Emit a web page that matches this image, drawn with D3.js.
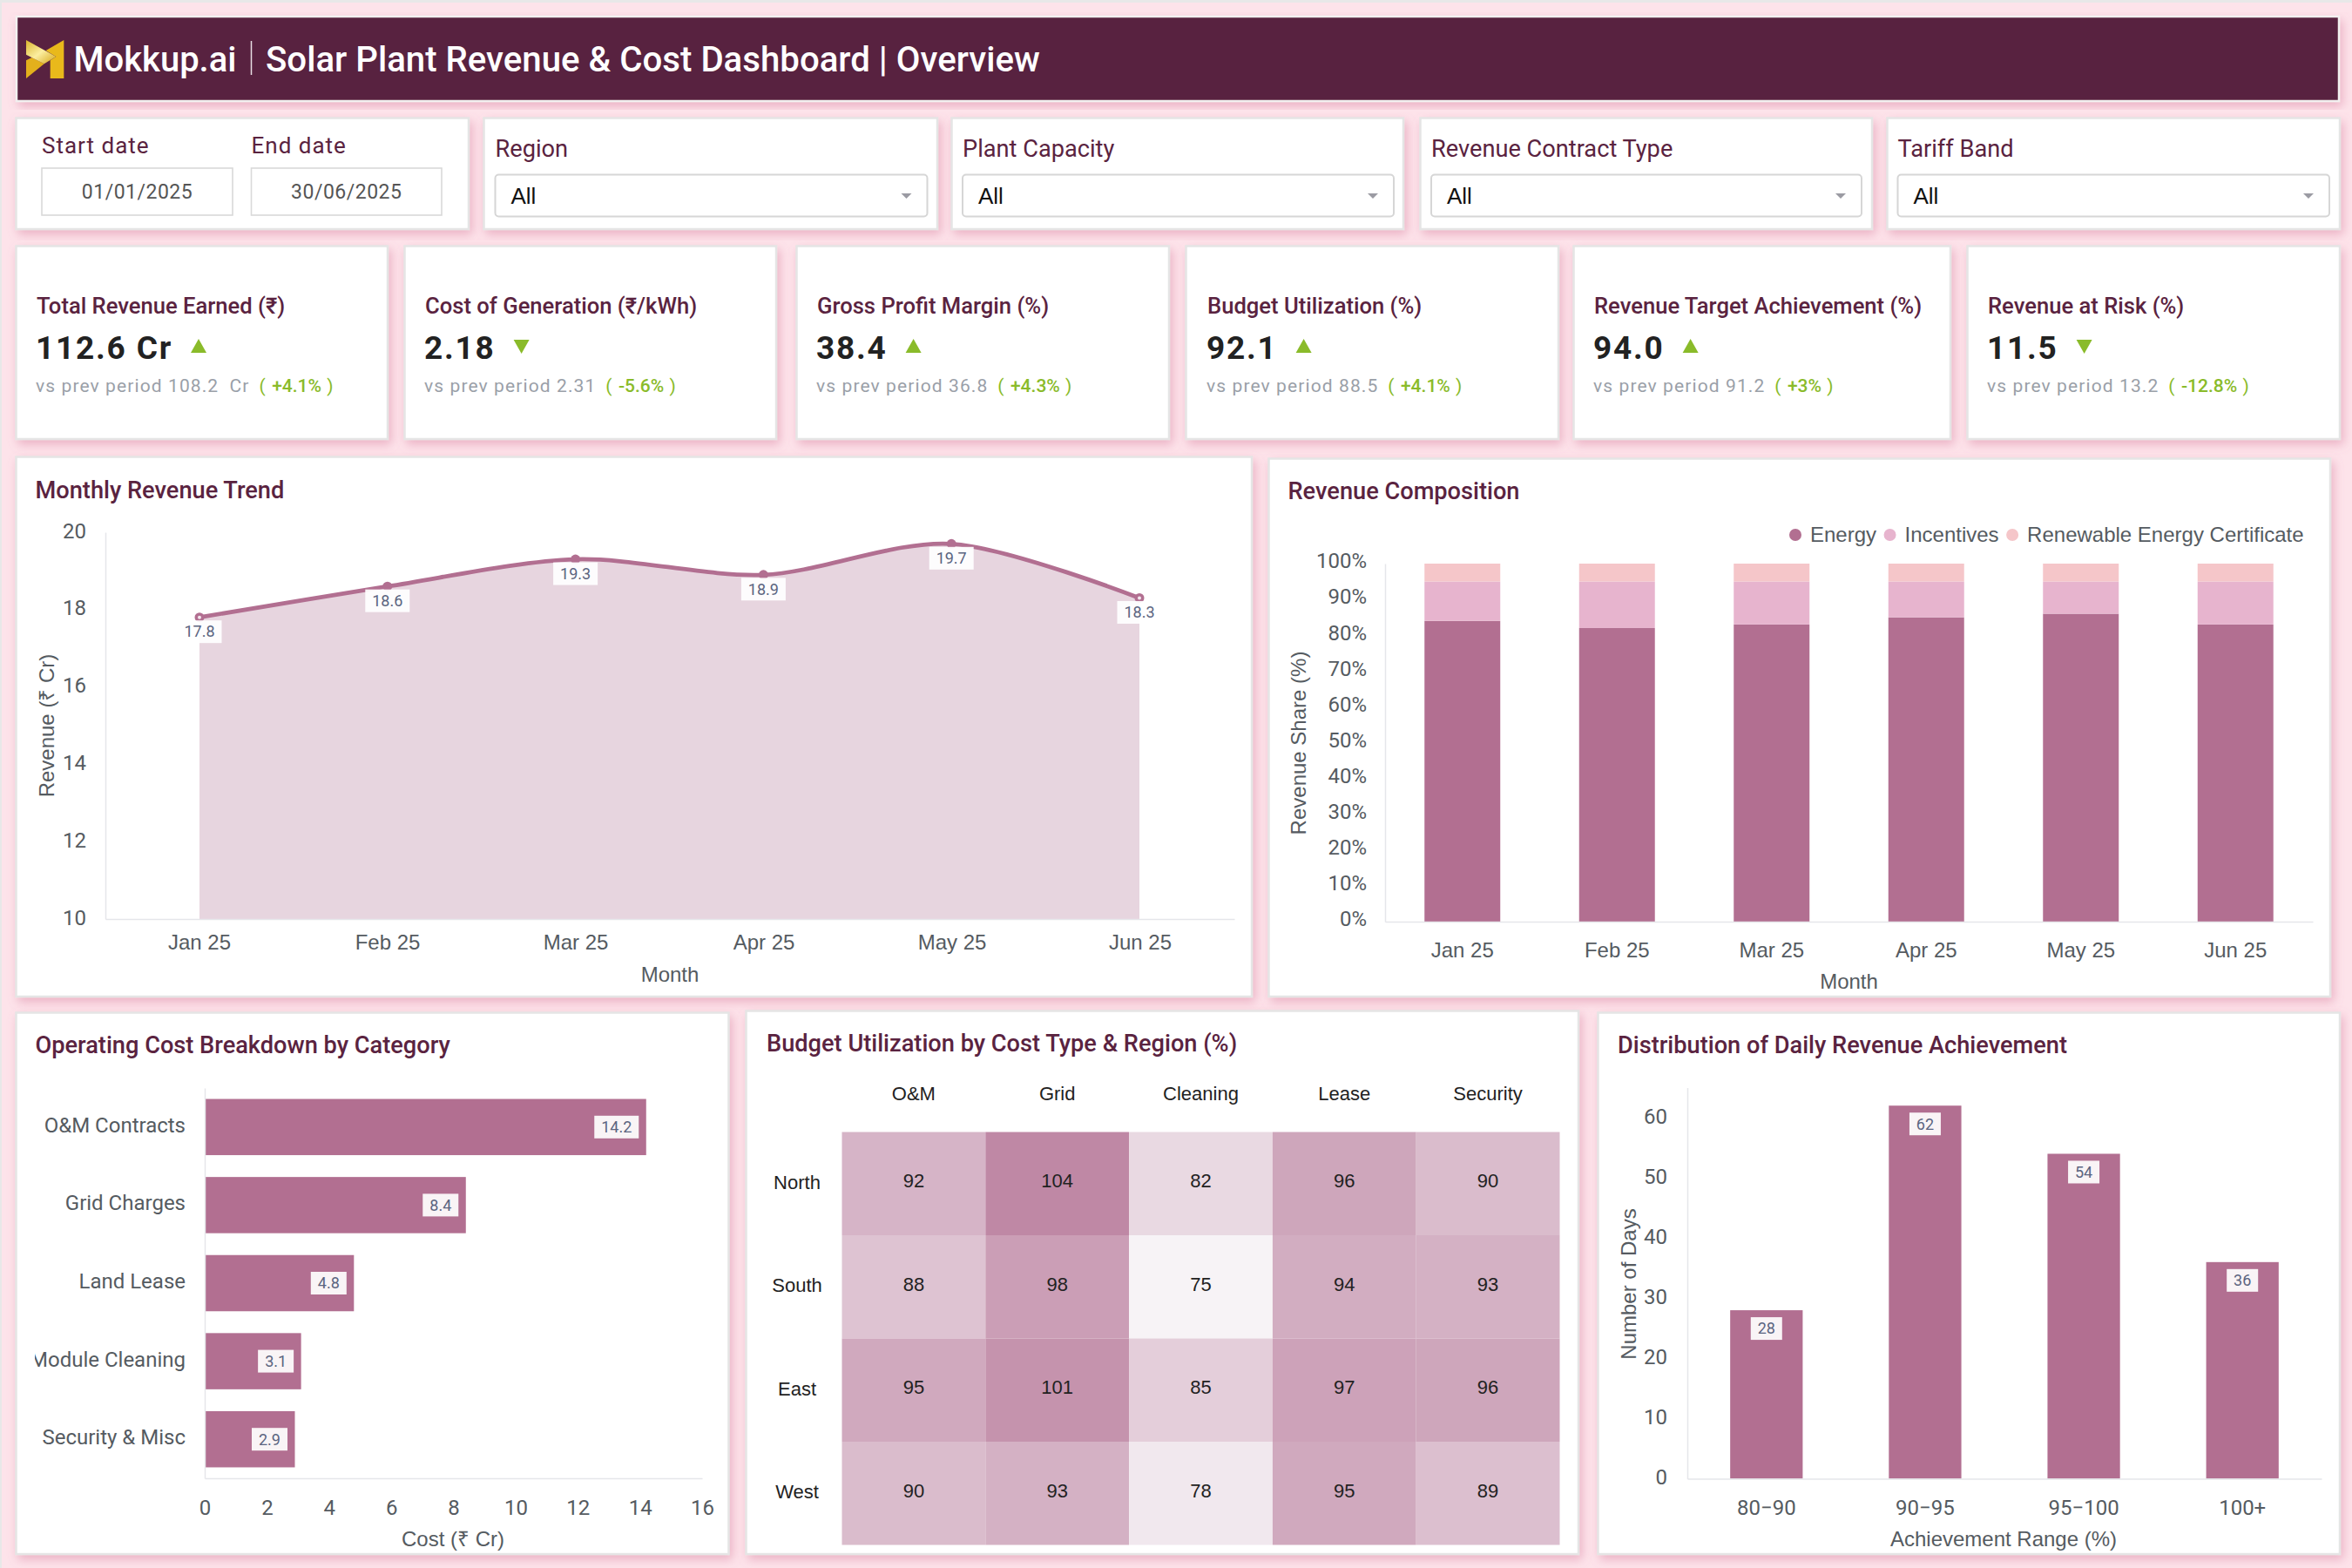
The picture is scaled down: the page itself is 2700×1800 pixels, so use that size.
<!DOCTYPE html>
<html><head><meta charset="utf-8">
<script src="https://cdn.jsdelivr.net/npm/d3@7"></script>
<style>
html,body{margin:0;padding:0;background:#fde3ea;}
svg{display:block;}
text{font-family:Roboto,sans-serif;}
</style></head><body><svg id="c" width="2700" height="1800"></svg>
<script>
// ---------- data ----------
const months=["Jan 25","Feb 25","Mar 25","Apr 25","May 25","Jun 25"];
const revenue=[17.8,18.6,19.3,18.9,19.7,18.3];
const energyShare=[84,82,83,85,86,83];
const incentiveShare=[11,13,12,10,9,12];
const recShare=[5,5,5,5,5,5];
const compositionSeries=["Energy","Incentives","Renewable Energy Certificate"];
const costCategories=["O&M Contracts","Grid Charges","Land Lease","Module Cleaning","Security & Misc"];
const costValues=[14.2,8.4,4.8,3.1,2.9];
const heatRegions=["North","South","East","West"];
const heatTypes=["O&M","Grid","Cleaning","Lease","Security"];
const heatNorth=[92,104,82,96,90];
const heatSouth=[88,98,75,94,93];
const heatEast=[95,101,85,97,96];
const heatWest=[90,93,78,95,89];
const achievementRanges=["80−90","90−95","95−100","100+"];
const achievementDays=[28,62,54,36];
const kpiTitles=["Total Revenue Earned (₹)","Cost of Generation (₹/kWh)","Gross Profit Margin (%)","Budget Utilization (%)","Revenue Target Achievement (%)","Revenue at Risk (%)"];
const kpiValues=["112.6 Cr","2.18","38.4","92.1","94.0","11.5"];
const kpiPrev=["108.2","2.31","36.8","88.5","91.2","13.2"];
const kpiPrevUnit=[" Cr","","","","",""];
const kpiDelta=["+4.1%","-5.6%","+4.3%","+4.1%","+3%","-12.8%"];
const kpiUp=[true,false,true,true,true,false];
const filterLabels=["Region","Plant Capacity","Revenue Contract Type","Tariff Band"];
const filterValue="All";
const dateLabels=["Start date","End date"];
const dateValues=["01/01/2025","30/06/2025"];

// ---------- style ----------
const PLUM="#b26f91",TITLE="#5a2340",AXIS="#555b61",GREEN="#8abb2a",LBL="#5b6480";
const TS=27.2;
const svg=d3.select("#c");
const defs=svg.append("defs");
const f=defs.append("filter").attr("id","sh").attr("x","-5%").attr("y","-5%").attr("width","112%").attr("height","115%");
f.append("feDropShadow").attr("dx",3).attr("dy",5).attr("stdDeviation",6).attr("flood-color","#d26d91").attr("flood-opacity",.42);
const lg=defs.append("linearGradient").attr("id","logoG").attr("x1","0").attr("y1","0").attr("x2","1").attr("y2","1");
[["0","#d9b42c"],[".5","#fbeea0"],["1","#d6a514"]].forEach(s=>lg.append("stop").attr("offset",s[0]).attr("stop-color",s[1]));

function T(g,x,y,s,o={}){
  const t=g.append("text").attr("x",x).attr("y",y).attr("dy",".35em").text(s)
   .attr("font-size",o.size||24).attr("fill",o.fill||AXIS).attr("text-anchor",o.anchor||"start");
  if(o.family)t.style("font-family",o.family);
  if(o.weight)t.attr("font-weight",o.weight);
  if(o.ls)t.attr("letter-spacing",o.ls);
  if(o.rot)t.attr("transform",`rotate(-90 ${x} ${y})`);
  return t;
}
const LIB="'Liberation Sans',Arial,sans-serif";
function card(x0,y0,x1,y1){
  svg.append("rect").attr("x",x0-1.5).attr("y",y0-1.5).attr("width",x1-x0+1.5).attr("height",y1-y0+1.5)
    .attr("fill","#fff").attr("stroke","#e5e5e5").attr("stroke-width",2.5).attr("filter","url(#sh)");
  return svg.append("g");
}
function styleAxis(a,size,family,dy){
  a.selectAll(".domain").attr("stroke","#e5e6ea").attr("stroke-width",1.5);
  a.selectAll(".tick line").remove();
  a.selectAll("text").attr("font-size",size).attr("fill",AXIS).style("font-family",family);
  if(dy)a.selectAll(".tick text").attr("dy",dy);
}
function valBox(g,cx,cy,s,w){
  g.append("rect").attr("x",cx-w/2).attr("y",cy-13).attr("width",w).attr("height",26).attr("fill","#fff").attr("fill-opacity",.92);
  T(g,cx,cy,s,{size:18,fill:LBL,anchor:"middle"});
}

// page edge
svg.append("rect").attr("x",0).attr("y",0).attr("width",2700).attr("height",3).attr("fill","#e8e8e8");
svg.append("rect").attr("x",0).attr("y",0).attr("width",2).attr("height",1800).attr("fill","#e8e8e8");

// ---------- header ----------
svg.append("rect").attr("x",19).attr("y",19).attr("width",2666).attr("height",97).attr("fill","#59233f")
  .attr("stroke","#f2f0f0").attr("stroke-width",2.5).attr("filter","url(#sh)");
const lp=(X,Y)=>[10+X/3,30+Y/3].join(",");
const logoPts=pts=>pts.map(p=>lp(p[0],p[1])).join(" ");
svg.append("polygon").attr("points",logoPts([[190,48],[128,84],[163,105],[143,118],[143,180],[190,180]])).attr("fill","#e9b91b");
svg.append("polygon").attr("points",logoPts([[60,118],[80,108],[122,130],[60,180]])).attr("fill","#e3b01c");
svg.append("polygon").attr("points",logoPts([[60,48],[163,105],[122,130],[60,98]])).attr("fill","url(#logoG)");
T(svg,84.5,68,"Mokkup.ai",{size:40,fill:"#fff",weight:500});
svg.append("line").attr("x1",288.5).attr("x2",288.5).attr("y1",47).attr("y2",86).attr("stroke","#e9dfe4").attr("stroke-width",1.5);
T(svg,305,68,"Solar Plant Revenue & Cost Dashboard | Overview",{size:40.2,fill:"#fff",weight:500});

// ---------- filters ----------
const gd=card(20,137,538,263);
[[48,267],[288.5,507]].forEach((b,i)=>{
  T(gd,b[0],167,dateLabels[i],{size:26,fill:TITLE,ls:1});
  gd.append("rect").attr("x",b[0]).attr("y",193).attr("width",b[1]-b[0]).attr("height",54).attr("fill","#fff").attr("stroke","#d9d9d9").attr("stroke-width",1.6);
  T(gd,(b[0]+b[1])/2,220,dateValues[i],{size:23,fill:"#555",anchor:"middle",ls:.5});
});
[[557,1076,568.5,1064.5],[1094,1611,1105,1600],[1632,2149,1643,2137],[2168,2686,2178.5,2674]].forEach((b,i)=>{
  const g=card(b[0],137,b[1],263);
  T(g,b[2],170,filterLabels[i],{size:TS,fill:TITLE});
  g.append("rect").attr("x",b[2]).attr("y",200.5).attr("width",b[3]-b[2]).attr("height",48).attr("rx",4).attr("fill","#fff").attr("stroke","#d6d6d6").attr("stroke-width",2);
  T(g,b[2]+18,225,filterValue,{size:26,fill:"#111",family:LIB});
  const ax=b[3]-24;
  g.append("path").attr("d",`M${ax-6},222 L${ax+6},222 L${ax},228 Z`).attr("fill","#9b9ba3");
});

// ---------- KPI cards ----------
const kpiBoxes=[[20,445],[466,891],[916,1342],[1363,1789],[1808,2239],[2260,2686]];
const kpiPad=[22,22,22,23,22,22];
kpiBoxes.forEach((b,i)=>{
  const g=card(b[0],284,b[1],504), x=b[0]+kpiPad[i]-1;
  T(g,x+1,351,kpiTitles[i],{size:25.6,fill:TITLE,weight:500});
  const v=T(g,x,399,kpiValues[i],{size:37,fill:"#222",weight:700,ls:1.8});
  const tx=x+v.node().getComputedTextLength()+30;
  g.append("path").attr("fill",GREEN).attr("d",kpiUp[i]?`M${tx-9},405 L${tx+9},405 L${tx},389 Z`:`M${tx-9},390 L${tx+9},390 L${tx},406 Z`);
  const s=T(g,x,443,"vs prev period "+kpiPrev[i],{size:21,fill:"#9aa0a8",ls:1.1});
  if(kpiPrevUnit[i])s.append("tspan").attr("dx",6).text(kpiPrevUnit[i]);
  const sx=x+s.node().getBBox().width+11;
  const d=T(g,sx,443,"",{size:21,fill:GREEN});
  d.append("tspan").text("( ").attr("letter-spacing",1.1);
  d.append("tspan").text(kpiDelta[i]).attr("font-weight",500);
  d.append("tspan").text(" )").attr("letter-spacing",1.1);
});

// ---------- monthly revenue trend ----------
{
  const g=card(20,526,1437,1144);
  T(g,40.5,562,"Monthly Revenue Trend",{size:TS,fill:TITLE,weight:500});
  const x=d3.scalePoint().domain(months).range([229,1308]);
  const xb=d3.scaleBand().domain(months).range([121,1417]);
  const y=d3.scaleLinear().domain([10,20]).range([1055,611]);
  const pts=months.map((m,i)=>({m,v:revenue[i],i}));
  const curve=d3.curveCardinal.tension(.1);
  g.append("path").datum(pts).attr("fill","#e7d5df")
    .attr("d",d3.area().x(d=>x(d.m)).y0(y(10)).y1(d=>y(d.v)).curve(curve));
  const ay=g.append("g").attr("transform","translate(121,0)").call(d3.axisLeft(y).ticks(5).tickSize(0).tickPadding(22));
  styleAxis(ay,24,"Roboto",".25em");
  const ax=g.append("g").attr("transform","translate(0,1055)").call(d3.axisBottom(xb).tickSize(0).tickPadding(18));
  styleAxis(ax,24,LIB);
  g.append("path").datum(pts).attr("fill","none").attr("stroke",PLUM).attr("stroke-width",4.8)
    .attr("d",d3.line().x(d=>x(d.m)).y(d=>y(d.v)).curve(curve));
  g.selectAll("circle.m").data(pts).join("circle").attr("class","m").attr("cx",d=>x(d.m)).attr("cy",d=>y(d.v)).attr("r",5.5).attr("fill",PLUM);
  g.selectAll("circle.e").data(pts.filter((d,i)=>i===0||i===pts.length-1)).join("circle").attr("class","e")
    .attr("cx",d=>x(d.m)).attr("cy",d=>y(d.v)).attr("r",2).attr("fill","#f3e7ee");
  pts.forEach(d=>valBox(g,x(d.m),y(d.v)+16.5,d.v.toFixed(1),51));
  T(g,53.5,833,"Revenue (₹ Cr)",{size:24,family:LIB,anchor:"middle",rot:true});
  T(g,769,1118.5,"Month",{size:24,family:LIB,anchor:"middle"});
}

// ---------- revenue composition ----------
{
  const g=card(1458,528,2675,1144);
  T(g,1478.5,563.5,"Revenue Composition",{size:TS,fill:TITLE,weight:500});
  const x=d3.scaleBand().domain(months).range([1590,2655]).paddingInner(.51).paddingOuter(.255);
  const y=d3.scaleLinear().domain([0,100]).range([1058,647]);
  const rows=months.map((m,i)=>({m,Energy:energyShare[i],Incentives:incentiveShare[i],"Renewable Energy Certificate":recShare[i]}));
  const col=d3.scaleOrdinal().domain(compositionSeries).range([PLUM,"#e7b4ce","#f5c6c9"]);
  const stack=d3.stack().keys(compositionSeries)(rows);
  g.selectAll("g.s").data(stack).join("g").attr("class","s").attr("fill",d=>col(d.key))
   .selectAll("rect").data(d=>d).join("rect")
   .attr("x",d=>x(d.data.m)).attr("width",x.bandwidth()).attr("y",d=>y(d[1])).attr("height",d=>y(d[0])-y(d[1]));
  const ay=g.append("g").attr("transform","translate(1590,0)").call(d3.axisLeft(y).ticks(10).tickFormat(d=>d+"%").tickSize(0).tickPadding(21));
  styleAxis(ay,24,"Roboto",".2em");
  const ax=g.append("g").attr("transform","translate(0,1058)").call(d3.axisBottom(x).tickSize(0).tickPadding(24));
  styleAxis(ax,24,LIB);
  T(g,1490.5,853,"Revenue Share (%)",{size:24,family:LIB,anchor:"middle",rot:true});
  T(g,2122.5,1127,"Month",{size:24,family:LIB,anchor:"middle"});
  let lx=2061;
  compositionSeries.forEach(s=>{
    g.append("circle").attr("cx",lx).attr("cy",614).attr("r",7).attr("fill",col(s));
    const t=T(g,lx+17,614,s,{size:24,family:LIB});
    lx+=17+t.node().getComputedTextLength()+15.5;
  });
}

// ---------- operating cost ----------
{
  const g=card(20,1164,836.5,1784);
  T(g,40.5,1199,"Operating Cost Breakdown by Category",{size:TS,fill:TITLE,weight:500});
  const x=d3.scaleLinear().domain([0,16]).range([235,806]);
  const y=d3.scaleBand().domain(costCategories).range([1249,1697]).paddingInner(.28).paddingOuter(.14);
  defs.append("clipPath").attr("id","costClip").append("rect").attr("x",-195).attr("y",1240).attr("width",197).attr("height",470);
  const pts=costCategories.map((c,i)=>({c,v:costValues[i]}));
  g.selectAll("rect.b").data(pts).join("rect").attr("class","b").attr("x",x(0)).attr("y",d=>y(d.c)).attr("width",d=>x(d.v)-x(0)).attr("height",y.bandwidth()).attr("fill",PLUM);
  const ay=g.append("g").attr("transform","translate(235,0)").call(d3.axisLeft(y).tickSize(0).tickPadding(22));
  styleAxis(ay,24,"Roboto",".25em");
  ay.attr("clip-path","url(#costClip)");
  const ax=g.append("g").attr("transform","translate(0,1697)").call(d3.axisBottom(x).ticks(8).tickSize(0).tickPadding(25));
  styleAxis(ax,24,"Roboto");
  pts.forEach(d=>{const w=d.v>=10?51:41; valBox(g,x(d.v)-8.5-w/2,y(d.c)+y.bandwidth()/2,d.v.toFixed(1),w);});
  T(g,520,1767,"Cost (₹ Cr)",{size:24,family:LIB,anchor:"middle"});
}

// ---------- heat map ----------
{
  const g=card(858,1162,1812,1784);
  T(g,880,1197.5,"Budget Utilization by Cost Type & Region (%)",{size:TS,fill:TITLE,weight:500});
  const x=d3.scaleBand().domain(heatTypes).range([966.5,1790.5]);
  const y=d3.scaleBand().domain(heatRegions).range([1299.5,1773.5]);
  const col=d3.scaleLinear().domain([75,104]).range(["#f7f3f6","#bf88a5"]);
  const rows=[heatNorth,heatSouth,heatEast,heatWest];
  const cells=rows.flatMap((r,i)=>r.map((v,j)=>({r:heatRegions[i],t:heatTypes[j],v})));
  g.selectAll("rect.c").data(cells).join("rect").attr("class","c").attr("x",d=>x(d.t)).attr("y",d=>y(d.r)).attr("width",x.bandwidth()).attr("height",y.bandwidth()).attr("fill",d=>col(d.v));
  cells.forEach(d=>T(g,x(d.t)+x.bandwidth()/2,y(d.r)+y.bandwidth()/2-3,String(d.v),{size:22,fill:"#222",family:LIB,anchor:"middle"}));
  heatTypes.forEach(t=>T(g,x(t)+x.bandwidth()/2,1255,t,{size:22,fill:"#222",family:LIB,anchor:"middle"}));
  heatRegions.forEach(r=>T(g,915,y(r)+y.bandwidth()/2-1.5,r,{size:22,fill:"#222",family:LIB,anchor:"middle"}));
}

// ---------- distribution ----------
{
  const g=card(1836,1164,2686,1784);
  T(g,1857,1199,"Distribution of Daily Revenue Achievement",{size:TS,fill:TITLE,weight:500});
  const x=d3.scaleBand().domain(achievementRanges).range([1937,2665]).paddingInner(.543).paddingOuter(.27);
  const y=d3.scaleLinear().domain([0,65]).range([1697.5,1248.5]);
  const pts=achievementRanges.map((r,i)=>({r,v:achievementDays[i]}));
  g.selectAll("rect.b").data(pts).join("rect").attr("class","b").attr("x",d=>x(d.r)).attr("y",d=>y(d.v)).attr("width",x.bandwidth()).attr("height",d=>y(0)-y(d.v)).attr("fill",PLUM);
  const ay=g.append("g").attr("transform","translate(1937,0)").call(d3.axisLeft(y).tickValues(d3.range(0,61,10)).tickSize(0).tickPadding(23));
  styleAxis(ay,24,"Roboto",".25em");
  const ax=g.append("g").attr("transform","translate(0,1697.5)").call(d3.axisBottom(x).tickSize(0).tickPadding(24));
  styleAxis(ax,24,"Roboto");
  pts.forEach(d=>valBox(g,x(d.r)+x.bandwidth()/2,y(d.v)+21,String(d.v),36));
  T(g,1869.5,1474,"Number of Days",{size:24,family:LIB,anchor:"middle",rot:true});
  T(g,2300,1767,"Achievement Range (%)",{size:24,family:LIB,anchor:"middle"});
}
</script></body></html>
